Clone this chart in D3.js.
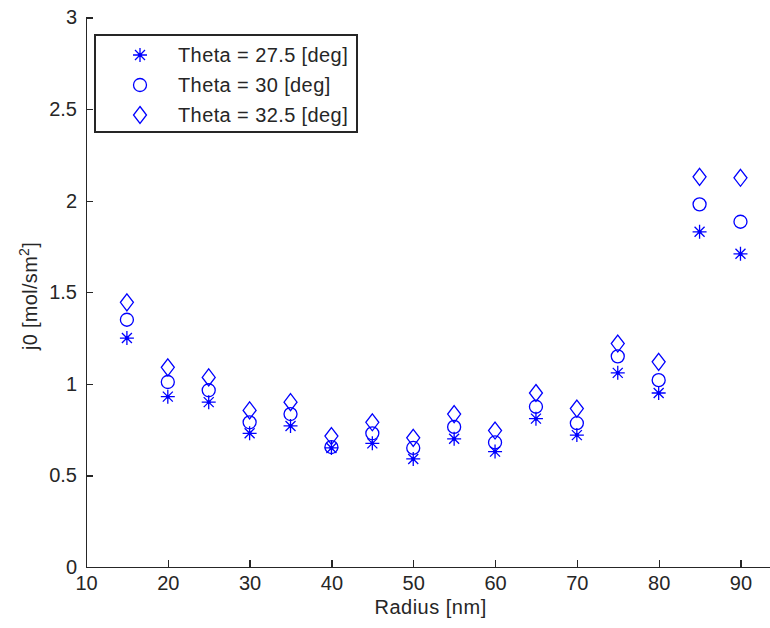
<!DOCTYPE html>
<html>
<head>
<meta charset="utf-8">
<script src="https://cdn.jsdelivr.net/npm/d3@7"></script>
<style>
  body { margin: 0; background: #fff; }
  text { font-family: Arial, "Liberation Sans", sans-serif; fill: #262626; }
  .axis path, .axis line { stroke: #262626; stroke-width: 1.3; shape-rendering: crispEdges; }
  .axis text { font-size: 20px; }
</style>
</head>
<body>
<svg id="chart" width="770" height="628"></svg>
<script>
// radius in nm, j0 in mol/sm^2, one series per theta
var radius = [15, 20, 25, 30, 35, 40, 45, 50, 55, 60, 65, 70, 75, 80, 85, 90];
var theta275 = [1.25, 0.93, 0.90, 0.73, 0.77, 0.65, 0.675, 0.59, 0.70, 0.63, 0.81, 0.72, 1.06, 0.95, 1.83, 1.71];
var theta30 = [1.35, 1.01, 0.965, 0.79, 0.835, 0.655, 0.73, 0.65, 0.765, 0.68, 0.875, 0.785, 1.15, 1.02, 1.98, 1.885];
var theta325 = [1.445, 1.09, 1.035, 0.855, 0.90, 0.715, 0.79, 0.705, 0.835, 0.745, 0.95, 0.865, 1.22, 1.12, 2.13, 2.125];
var seriesNames = ["Theta = 27.5 [deg]", "Theta = 30 [deg]", "Theta = 32.5 [deg]"];
var xTicks = [10, 20, 30, 40, 50, 60, 70, 80, 90];
var yTicks = [0, 0.5, 1, 1.5, 2, 2.5, 3];

var series = [
  {name: seriesNames[0], shape: "star", values: theta275},
  {name: seriesNames[1], shape: "circle", values: theta30},
  {name: seriesNames[2], shape: "diamond", values: theta325}
];

var blue = "#0000ff";
var svg = d3.select("#chart");

var x = d3.scaleLinear().domain([10, 94]).range([86, 773.2]);
var y = d3.scaleLinear().domain([0, 3]).range([567, 17.5]);

// markers drawn like matlab: '*', 'o', 'd'
function drawMarker(g, shape) {
  g.attr("fill", "none").attr("stroke", blue).attr("stroke-width", 1.3);
  if (shape == "circle") {
    g.append("circle").attr("r", 6.5);
  } else if (shape == "diamond") {
    g.append("path").attr("d", "M0,-8.5L6.5,0L0,8.5L-6.5,0Z");
  } else {
    g.append("path").attr("d", "M-7,0H7M0,-7V7M-5,-5L5,5M-5,5L5,-5");
    g.append("circle").attr("r", 2).attr("fill", blue).attr("stroke", "none");
  }
}

var xAxis = d3.axisBottom(x).tickValues(xTicks).tickSizeInner(-7).tickSizeOuter(0).tickPadding(9);
var yAxis = d3.axisLeft(y).tickValues(yTicks).tickSizeInner(-7).tickSizeOuter(0).tickPadding(9)
  .tickFormat(d3.format("~g"));

svg.append("g")
  .attr("class", "axis")
  .attr("transform", "translate(0," + y(0) + ")")
  .call(xAxis);

svg.append("g")
  .attr("class", "axis")
  .attr("transform", "translate(" + x(10) + ",0)")
  .call(yAxis);

svg.selectAll(".axis text").attr("fill", "#262626");

// points
series.forEach(function(s) {
  svg.append("g").selectAll("g")
    .data(s.values)
    .enter().append("g")
      .attr("transform", function(d, i) { return "translate(" + x(radius[i]) + "," + y(d) + ")"; })
      .each(function() { drawMarker(d3.select(this), s.shape); });
});

// axis titles
svg.append("text")
  .attr("x", (x(10) + x(94)) / 2 + 1)
  .attr("y", 614)
  .attr("text-anchor", "middle")
  .style("font-size", "20px")
  .style("letter-spacing", "0.5px")
  .text("Radius [nm]");

var ylab = svg.append("text")
  .attr("transform", "translate(37," + 296 + ") rotate(-90)")
  .attr("text-anchor", "middle")
  .style("font-size", "20px")
  .style("letter-spacing", "0.3px");
ylab.append("tspan").text("j0 [mol/sm");
ylab.append("tspan").attr("dy", -8).style("font-size", "14px").text("2");
ylab.append("tspan").attr("dy", 8).text("]");

// legend
var legend = svg.append("g");
legend.append("rect")
  .attr("x", 95).attr("y", 35)
  .attr("width", 262).attr("height", 97)
  .attr("fill", "#fff")
  .attr("stroke", "#262626")
  .attr("stroke-width", 1.3)
  .attr("shape-rendering", "crispEdges");

var rows = legend.selectAll("g.row")
  .data(series)
  .enter().append("g")
    .attr("class", "row")
    .attr("transform", function(d, i) { return "translate(0," + (55 + i * 30) + ")"; });

rows.append("g")
  .attr("transform", "translate(140,0)")
  .each(function(d) { drawMarker(d3.select(this), d.shape); });

rows.append("text")
  .attr("x", 178)
  .attr("dy", "0.36em")
  .style("font-size", "20px")
  .style("letter-spacing", "0.4px")
  .text(function(d) { return d.name; });
</script>
</body>
</html>
